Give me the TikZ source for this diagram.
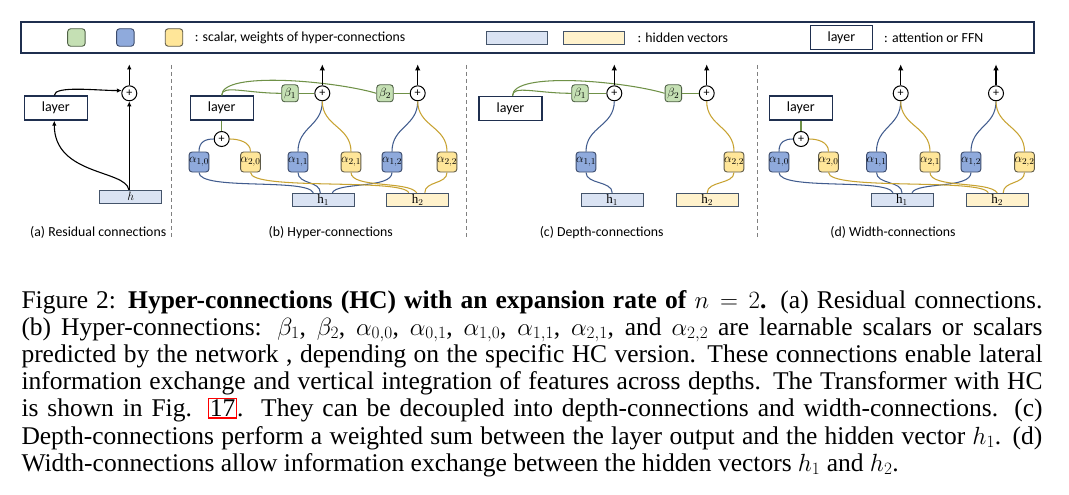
\documentclass[tikz,border=0pt]{standalone}
\usepackage{fontspec}
\setmainfont{Liberation Serif}
\newfontfamily\diag{Carlito}
\usetikzlibrary{arrows.meta}
\definecolor{bfill}{HTML}{8FAADC}
\definecolor{bdraw}{HTML}{3B4A6B}
\definecolor{yfill}{HTML}{FFE699}
\definecolor{ydraw}{HTML}{5E5A48}
\definecolor{gfill}{HTML}{C5E0B4}
\definecolor{gdraw}{HTML}{4F6146}
\definecolor{hbfill}{HTML}{DAE3F3}
\definecolor{hyfill}{HTML}{FFF2CC}
\definecolor{hdraw}{HTML}{44546A}
\definecolor{navy}{HTML}{1F2F4F}
\definecolor{bline}{HTML}{415C8E}
\definecolor{yline}{HTML}{C8A332}
\definecolor{gline}{HTML}{6F9147}
\definecolor{sepc}{HTML}{808080}
\tikzset{
  ab/.style={draw=bdraw, fill=bfill, rounded corners=3pt, minimum width=19.5pt, minimum height=20pt, inner sep=0pt, line width=0.9pt, font=\fontsize{13}{13}\selectfont},
  ay/.style={ab, draw=ydraw, fill=yfill},
  bg/.style={ab, draw=gdraw, fill=gfill, minimum width=16.5pt, minimum height=17pt},
  hb/.style={draw=hdraw, fill=hbfill, line width=1pt, minimum width=62pt, minimum height=13.4pt, inner sep=0pt, font=\fontsize{13}{13}\selectfont},
  hy/.style={hb, fill=hyfill},
  lay/.style={draw=navy, fill=white, line width=1.3pt, minimum width=63pt, minimum height=24pt, inner sep=0pt, font=\diag\fontsize{14}{16}\selectfont},
  pl/.style={circle, draw=black, fill=white, line width=1pt, minimum size=15pt, inner sep=0pt, font=\diag\fontsize{12}{12}\selectfont},
  lt/.style={anchor=west, inner sep=0pt, font=\diag\fontsize{13.8}{16}\selectfont},
  plab/.style={inner sep=0pt, font=\diag\fontsize{13.8}{16}\selectfont},
  conn/.style={line width=1.05pt},
  bl/.style={conn, draw=bline},
  yl/.style={conn, draw=yline},
  gl/.style={conn, draw=gline},
  arrU/.style={draw=black, line width=1.4pt, -{Latex[length=6pt,width=5.5pt]}},
  arrA/.style={draw=black, line width=1.1pt, -{Latex[length=5pt,width=4.5pt]}},
  sepl/.style={draw=sepc, line width=0.8pt, dash pattern=on 4pt off 3pt},
  capl/.style={anchor=base west, inner sep=0pt, font=\fontsize{25.5}{27.3}\selectfont},
}
\begin{document}
\begin{tikzpicture}[x=1pt,y=-1pt]
\useasboundingbox (0,0) rectangle (1069,495);
\fill[white] (0,0) rectangle (1069,495);

% ---------------- legend ----------------
\node[draw=navy, line width=2pt, minimum width=1013pt, minimum height=31pt, inner sep=0pt] (legend) at (527.5,37.5) {};
\node[bg, minimum width=17.5pt, minimum height=17.5pt] (lgg) at (76.4,37.5) {};
\node[ab, minimum width=17.5pt, minimum height=17.5pt] (lgb) at (125.3,37.5) {};
\node[ay, minimum width=17.5pt, minimum height=17.5pt] (lgy) at (174,37.5) {};
\node[lt] (lgt1) at (194.6,37.5) {: scalar, weights of hyper-connections};
\node[hb, minimum width=61pt, minimum height=13pt] (lghb) at (516.7,37.8) {};
\node[hy, minimum width=61pt, minimum height=13pt] (lghy) at (594,37.8) {};
\node[lt] (lgt2) at (637.3,37.5) {: hidden vectors};
\node[lay, minimum width=62.5pt] (lgl) at (841.4,37.5) {layer};
\node[lt] (lgt3) at (884,37.5) {: attention or FFN};

% ---------------- separators ----------------
\coordinate (s1a) at (171.7,65); \coordinate (s1b) at (171.7,237);
\coordinate (s2a) at (466,65);   \coordinate (s2b) at (466,237);
\coordinate (s3a) at (757.7,65); \coordinate (s3b) at (757.7,237);
\draw[sepl] (s1a) -- (s1b);
\draw[sepl] (s2a) -- (s2b);
\draw[sepl] (s3a) -- (s3b);

% ---------------- (a) ----------------
\node[lay] (la) at (55.8,108) {layer};
\node[pl] (pa) at (129.3,93.3) {+};
\node[hb, minimum height=13pt] (ha) at (130.8,196.7) {$h$};
\draw[arrA] (ha.north -| pa.south) -- (pa.south);
\draw[arrA] ([xshift=-2pt]ha.north) .. controls +(-3,-20) and +(0,55) .. ([xshift=-1.5pt]la.south);
\draw[arrA] ([xshift=-1.5pt]la.north) .. controls +(0,-10) and +(-25,0) .. (pa.160);
\draw[arrA] (pa.north) -- ++(0,-21);
\node[plab] (capa) at (98.2,232.7) {(a) Residual connections};

% ---------------- (b) ----------------
\node[lay] (lb) at (221.7,108) {layer};
\node[pl] (pb0) at (221.7,139) {+};
\node[ab] (b10) at (199,162) {$\alpha_{1,0}$};
\node[ay] (b20) at (250.5,162) {$\alpha_{2,0}$};
\node[ab] (b11) at (298,162) {$\alpha_{1,1}$};
\node[ay] (b21) at (351,162) {$\alpha_{2,1}$};
\node[ab] (b12) at (392,162) {$\alpha_{1,2}$};
\node[ay] (b22) at (447,162) {$\alpha_{2,2}$};
\node[pl] (pb1) at (322.3,93.3) {+};
\node[pl] (pb2) at (417.7,93.3) {+};
\node[bg] (bb1) at (290,93.3) {$\beta_1$};
\node[bg] (bb2) at (385,93.3) {$\beta_2$};
\node[hb] (hb1) at (323.3,200) {$\mathrm{h}_1$};
\node[hy] (hb2) at (417.8,200) {$\mathrm{h}_2$};
\draw[gl] (lb.north) .. controls +(0,-11) and +(-35,0) .. (bb1.west);
\draw[gl] (lb.north) .. controls +(0,-25) and +(-40,-12) .. (bb2.west);
\draw[gl] (bb1.east) -- (pb1.west);
\draw[gl] (bb2.east) -- (pb2.west);
\draw[gl] (pb0.north) -- (lb.south);
\draw[bl] (b10.north) .. controls +(0,-10) and +(-8,0) .. (pb0.west);
\draw[yl] (b20.north) .. controls +(0,-10) and +(8,0) .. (pb0.east);
\draw[bl] (b11.north) .. controls +(0,-25) and +(0,25) .. (pb1.south);
\draw[yl] (b21.north) .. controls +(0,-25) and +(0,25) .. (pb1.south);
\draw[bl] (b12.north) .. controls +(0,-25) and +(0,25) .. (pb2.south);
\draw[yl] (b22.north) .. controls +(0,-25) and +(0,25) .. (pb2.south);
\draw[bl] (b10.south) .. controls +(0,18.5) and +(-6,-15) .. ([xshift=-10pt]hb1.north);
\draw[bl] (b11.south) .. controls +(0,12) and +(0,-12) .. ([xshift=-3pt]hb1.north);
\draw[bl] (b12.south) .. controls +(0,16.5) and +(5,-11) .. ([xshift=9pt]hb1.north);
\draw[yl] (b20.south) .. controls +(0,18.5) and +(-6,-15) .. ([xshift=-9pt]hb2.north);
\draw[yl] (b21.south) .. controls +(0,16) and +(-8,-12) .. ([xshift=-1pt]hb2.north);
\draw[yl] (b22.south) .. controls +(0,12) and +(0,-12) .. ([xshift=7pt]hb2.north);
\draw[arrU] (pb1.north) -- ++(0,-21);
\draw[arrU] (pb2.north) -- ++(0,-21);
\node[plab] (capb) at (330.8,232.7) {(b) Hyper-connections};

% ---------------- (c) ----------------
\node[lay] (lc) at (510.5,108.5) {layer};
\node[bg] (cb1) at (580,93.3) {$\beta_1$};
\node[pl] (pc1) at (614.3,93.3) {+};
\node[bg] (cb2) at (673.3,93.3) {$\beta_2$};
\node[pl] (pc2) at (706.7,93.3) {+};
\node[ab] (c11) at (586,162) {$\alpha_{1,1}$};
\node[ay] (c22) at (734,162) {$\alpha_{2,2}$};
\node[hb] (hc1) at (612.2,200) {$\mathrm{h}_1$};
\node[hy] (hc2) at (707.2,200) {$\mathrm{h}_2$};
\draw[gl] ([xshift=2pt]lc.north) .. controls +(0,-11) and +(-35,0) .. (cb1.west);
\draw[gl] ([xshift=2pt]lc.north) .. controls +(0,-25) and +(-40,-12) .. (cb2.west);
\draw[gl] (cb1.east) -- (pc1.west);
\draw[gl] (cb2.east) -- (pc2.west);
\draw[bl] (c11.north) .. controls +(0,-25) and +(0,25) .. (pc1.south);
\draw[bl] (c11.south) .. controls +(0,12) and +(0,-12) .. (hc1.north);
\draw[yl] (c22.north) .. controls +(0,-25) and +(0,25) .. (pc2.south);
\draw[yl] (c22.south) .. controls +(0,12) and +(0,-12) .. (hc2.north);
\draw[arrU] (pc1.north) -- ++(0,-21);
\draw[arrU] (pc2.north) -- ++(0,-21);
\node[plab] (capc) at (601.7,232.7) {(c) Depth-connections};

% ---------------- (d) ----------------
\node[lay] (ld) at (800.8,108) {layer};
\node[pl] (pd0) at (801,139) {+};
\node[ab] (d10) at (779,162) {$\alpha_{1,0}$};
\node[ay] (d20) at (828.5,162) {$\alpha_{2,0}$};
\node[ab] (d11) at (876.5,162) {$\alpha_{1,1}$};
\node[ay] (d21) at (930,162) {$\alpha_{2,1}$};
\node[ab] (d12) at (971,162) {$\alpha_{1,2}$};
\node[ay] (d22) at (1024.5,162) {$\alpha_{2,2}$};
\node[pl] (pd1) at (900.7,93.3) {+};
\node[pl] (pd2) at (996,93.3) {+};
\node[hb] (hd1) at (902,200) {$\mathrm{h}_1$};
\node[hy] (hd2) at (997.2,200) {$\mathrm{h}_2$};
\draw[gl] (pd0.north) -- (ld.south -| pd0.north);
\draw[bl] (d10.north) .. controls +(0,-10) and +(-8,0) .. (pd0.west);
\draw[yl] (d20.north) .. controls +(0,-10) and +(8,0) .. (pd0.east);
\draw[bl] (d11.north) .. controls +(0,-25) and +(0,25) .. (pd1.south);
\draw[yl] (d21.north) .. controls +(0,-25) and +(0,25) .. (pd1.south);
\draw[bl] (d12.north) .. controls +(0,-25) and +(0,25) .. (pd2.south);
\draw[yl] (d22.north) .. controls +(0,-25) and +(0,25) .. (pd2.south);
\draw[bl] (d10.south) .. controls +(0,18.5) and +(-6,-15) .. ([xshift=-9pt]hd1.north);
\draw[bl] (d11.south) .. controls +(0,12) and +(0,-12) .. ([xshift=0pt]hd1.north);
\draw[bl] (d12.south) .. controls +(0,16.5) and +(5,-11) .. ([xshift=10pt]hd1.north);
\draw[yl] (d20.south) .. controls +(0,18.5) and +(-6,-15) .. ([xshift=-9pt]hd2.north);
\draw[yl] (d21.south) .. controls +(0,16) and +(-8,-12) .. ([xshift=0pt]hd2.north);
\draw[yl] (d22.south) .. controls +(0,12) and +(0,-12) .. ([xshift=6pt]hd2.north);
\draw[arrU] (pd1.north) -- ++(0,-21);
\draw[arrU] (pd2.north) -- ++(0,-21);
\node[plab] (capd) at (893,232.7) {(d) Width-connections};

% ---------------- caption ----------------
\setlength{\fboxrule}{1.2pt}\setlength{\fboxsep}{0.6pt}
\node[capl] (cap1) at (21.3,308) {\hbox to 1021pt{Figure 2: \textbf{Hyper-connections (HC) with an expansion rate of} $n=2$\textbf{.} (a) Residual connections.}};
\node[capl] (cap2) at (21.3,335.2) {\hbox to 1021pt{(b) Hyper-connections: $\beta_1$, $\beta_2$, $\alpha_{0,0}$, $\alpha_{0,1}$, $\alpha_{1,0}$, $\alpha_{1,1}$, $\alpha_{2,1}$, and $\alpha_{2,2}$ are learnable scalars or scalars}};
\node[capl] (cap3) at (21.3,362.4) {\hbox to 1021pt{predicted by the network , depending on the specific HC version. These connections enable lateral}};
\node[capl] (cap4) at (21.3,389.6) {\hbox to 1021pt{information exchange and vertical integration of features across depths. The Transformer with HC}};
\node[capl] (cap5) at (21.3,416.8) {\hbox to 1021pt{is shown in Fig. \fcolorbox{red}{white}{17}.\ \ They can be decoupled into depth-connections and width-connections. (c)}};
\node[capl] (cap6) at (21.3,444) {\hbox to 1021pt{Depth-connections perform a weighted sum between the layer output and the hidden vector $h_1$. (d)}};
\node[capl] (cap7) at (21.3,471.2) {Width-connections allow information exchange between the hidden vectors $h_1$ and $h_2$.};
\end{tikzpicture}
\end{document}
